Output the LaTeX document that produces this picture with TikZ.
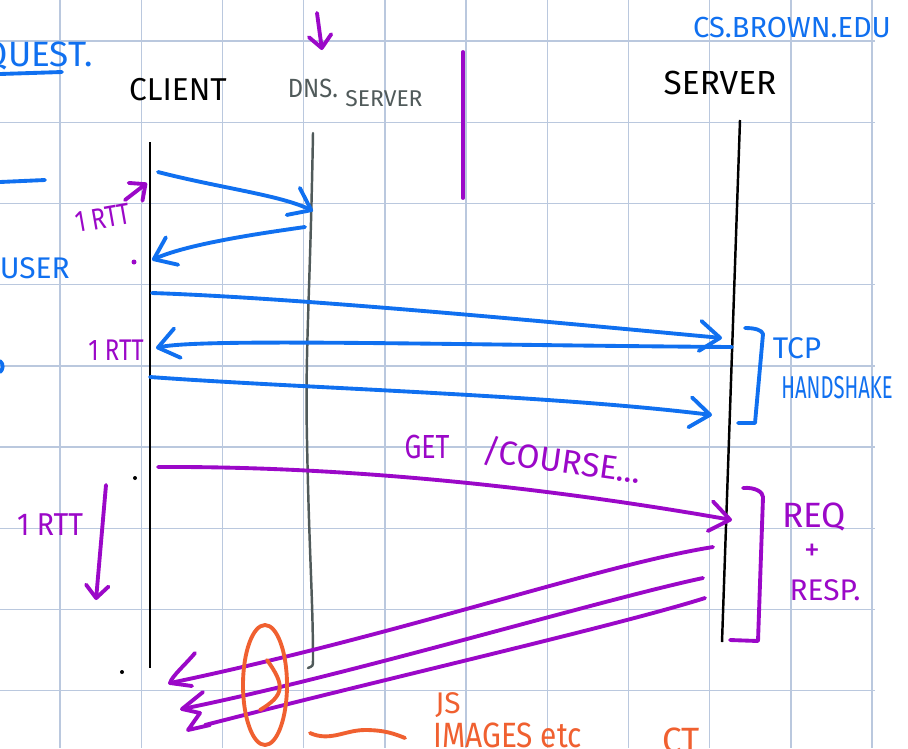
\documentclass[tikz,border=0pt]{standalone}
\usepackage{fontspec}
\setmainfont{Fira Sans}
\usetikzlibrary{arrows.meta}

\definecolor{gridblue}{RGB}{186,200,222}
\definecolor{penblue}{RGB}{16,112,240}
\definecolor{penpurple}{RGB}{155,8,200}
\definecolor{penorange}{RGB}{240,96,48}
\definecolor{pengray}{RGB}{80,90,90}

\newcommand{\handsz}[1]{\fontsize{#1}{#1}\selectfont}
\newcommand{\narrow}[2]{\scalebox{#1}[1]{#2}}

\tikzset{
  pen/.style={line width=2.2pt, line cap=round, line join=round},
  barb/.style={-{Straight Barb[length=4mm,width=6mm,round]}},
  smallbarb/.style={-{Straight Barb[length=2.5mm,width=4.5mm,round]}},
  hand/.style={inner sep=0pt},
}

\begin{document}
\begin{tikzpicture}[x=0.02cm, y=-0.02cm]
    \useasboundingbox[fill=white] (0,0) rectangle (908,748);

    % Draw the grid paper
    \foreach \gx in {0,...,10}
        \draw[gridblue, line width=0.8pt] (60+81.2*\gx,0) -- (60+81.2*\gx,748);
    \foreach \gy in {0,...,8}
        \draw[gridblue, line width=0.8pt] (0,41+81.2*\gy) -- (875,41+81.2*\gy);

    % Headings
    \node[hand, text=penblue, anchor=east] (quest) at (93,56) {\handsz{20}REQUEST.};
    \draw[pen, penblue] (0,74) -- (62,72);
    \node[hand] (client) at (178,90) {\handsz{18}CLIENT};
    \node[hand, text=pengray] (dns) at (313,88) {\handsz{15}\narrow{0.9}{DNS.}};
    \node[hand, text=pengray] (dnssrv) at (384,99) {\handsz{13}SERVER};
    \node[hand] (server) at (720,83) {\handsz{19}SERVER};
    \node[hand, text=penblue] (domain) at (792,28) {\handsz{16.5}CS.BROWN.EDU};
    \draw[pen, penpurple, smallbarb] (317,13) -- (322,50);
    \draw[pen, penpurple] (463,52) -- (463,198);

    % Lifelines
    \coordinate (clienttop) at (150,142);
    \coordinate (clientbot) at (150,668);
    \coordinate (dnstop) at (313,133);
    \coordinate (dnsmid) at (307,440);
    \coordinate (dnsbot) at (313,660);
    \coordinate (srvtop) at (740,120);
    \coordinate (srvbot) at (722,642);
    \draw[line width=1.4pt] (clienttop) -- (clientbot);
    \draw[pengray, line width=1.4pt, line cap=round]
        (dnstop) .. controls (310,300) and (305,350) .. (dnsmid)
        .. controls (309,550) and (313,600) .. (dnsbot) .. controls (313,666) .. (308,668);
    \draw[line width=1.4pt] (srvtop) -- (srvbot);

    % DNS lookup
    \coordinate (q1) at (158,172);
    \coordinate (r1) at (313,211);
    \coordinate (q2) at (305,227);
    \coordinate (r2) at (152,260);
    \draw[pen, penblue, barb] (q1) .. controls (220,188) and (280,195) .. (r1);
    \draw[pen, penblue, barb] (q2) .. controls (270,232) and (190,243) .. (r2);

    % TCP handshake
    \coordinate (q3) at (152,293);
    \coordinate (r3) at (722,338);
    \coordinate (q4) at (732,347);
    \coordinate (r4) at (156,348);
    \coordinate (q5) at (150,377);
    \coordinate (r5) at (712,415);
    \draw[pen, penblue, barb] (q3) .. controls (300,298) and (550,322) .. (r3);
    \draw[pen, penblue, barb] (q4) .. controls (450,345) and (200,338) .. (r4);
    \draw[pen, penblue, barb] (q5) .. controls (300,388) and (550,395) .. (r5);
    \draw[pen, penblue] (745,328) .. controls (755,328) and (762,330) .. (763,334)
        -- (755,423) -- (738,423);
    \node[hand, text=penblue] (tcp) at (797,348) {\handsz{17}TCP};
    \node[hand, text=penblue] (shake) at (837,388) {\handsz{18}\narrow{0.64}{HANDSHAKE}};

    % Left margin notes
    \draw[pen, penblue] (0,182) -- (45,180);
    \node[hand, text=penblue, anchor=east] (user) at (70,268) {\handsz{17}USER};
    \draw[pen, penblue] (0,361) .. controls (4,364) and (3,370) .. (0,372);
    \node[hand, text=penpurple, rotate=10] (rtta) at (103,218) {\handsz{17}\narrow{0.8}{1 RTT}};
    \draw[pen, penpurple, smallbarb] (125,200) -- (147,183);
    \node[hand, text=penpurple] (rttb) at (116,350) {\handsz{17}\narrow{0.8}{1 RTT}};
    \node[hand, text=penpurple] (rttc) at (50,525) {\handsz{18}\narrow{0.9}{1 RTT}};
    \draw[pen, penpurple, smallbarb] (106,485) -- (96,600);
    \fill[penpurple] (134,262) circle (2.5);
    \fill[black] (135,478) circle (2);
    \fill[black] (122,672) circle (2);

    % HTTP request
    \coordinate (qg) at (158,467);
    \coordinate (rg) at (732,520);
    \draw[pen, penpurple, barb] (qg) .. controls (350,466) and (550,488) .. (rg);
    \node[hand, text=penpurple] (get) at (427,447) {\handsz{19}\narrow{0.8}{GET}};
    \node[hand, text=penpurple, rotate=-8] (path) at (562,461) {\handsz{19}/COURSE...};
    \draw[pen, penpurple] (743,488) .. controls (755,487) and (763,492) .. (763,497)
        -- (758,641) -- (730,640);
    \node[hand, text=penpurple] (req) at (814,517) {\handsz{20}REQ};
    \node[hand, text=penpurple] (plus) at (812,552) {\handsz{18}+};
    \node[hand, text=penpurple] (resp) at (825,590) {\handsz{17}RESP.};

    % Responses back to the client
    \coordinate (sa) at (713,547);
    \coordinate (ra) at (170,683);
    \coordinate (sb) at (703,578);
    \coordinate (rb) at (182,709);
    \coordinate (sc) at (705,598);
    \coordinate (rc) at (205,725);
    \draw[pen, penpurple] (sa) .. controls (600,565) and (400,635) .. (ra);
    \draw[pen, penpurple] (sb) .. controls (600,600) and (350,675) .. (rb);
    \draw[pen, penpurple] (sc) .. controls (620,625) and (380,680) .. (rc);
    \draw[pen, penpurple] (195,653) .. controls (185,665) and (172,676) .. (ra) -- (192,686);
    \draw[pen, penpurple] (203,692) -- (rb) -- (200,713) -- (188,730) -- (210,725);

    % Extra resources
    \draw[pen, penorange] (265,685) ellipse [x radius=22, y radius=60];
    \draw[pen, penorange] (267,660) .. controls (285,685) and (285,695) .. (260,710);
    \draw[pen, penorange] (310,733) .. controls (330,742) and (345,730) .. (365,730)
        .. controls (385,730) and (395,734) .. (405,738);
    \node[hand, text=penorange] (js) at (448,705) {\handsz{17}JS};
    \node[hand, text=penorange, anchor=north west] (images) at (433,722) {\handsz{20}\narrow{0.85}{IMAGES etc}};
    \node[hand, text=penorange, anchor=north west] (more) at (662,727) {\handsz{20}CT};
\end{tikzpicture}
\end{document}
